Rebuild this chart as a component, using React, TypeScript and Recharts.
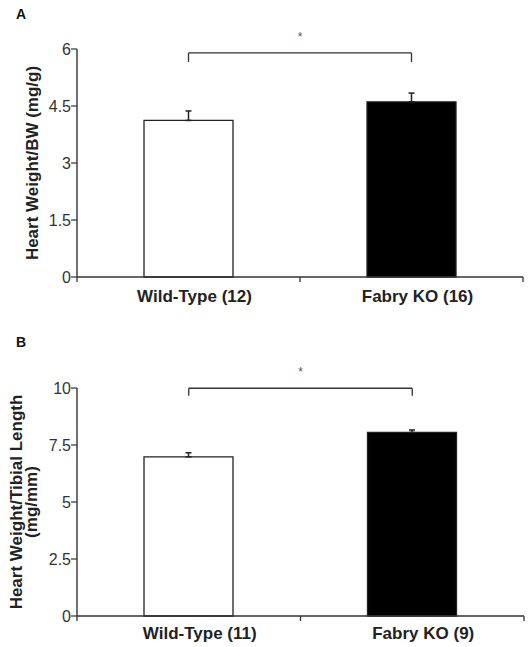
import React from 'react';
import { BarChart, Bar, XAxis, YAxis, ErrorBar, ReferenceLine, Cell, Label } from 'recharts';

const categoriesA = ['Wild-Type (12)', 'Fabry KO (16)'];
const meansA = [4.12, 4.61];
const semA = [0.25, 0.23];
const ticksA = [0, 1.5, 3, 4.5, 6];
const bracketA = { top: 5.9, foot: 5.66 };

const categoriesB = ['Wild-Type (11)', 'Fabry KO (9)'];
const meansB = [6.98, 8.05];
const semB = [0.18, 0.11];
const ticksB = [0, 2.5, 5, 7.5, 10];
const bracketB = { top: 9.99, foot: 9.66 };

const barFills = ['#ffffff', '#000000'];

const FONT = '"Liberation Sans", Arial, sans-serif';

type PanelProps = {
  categories: string[];
  means: number[];
  sem: number[];
  ticks: number[];
  bracket: { top: number; foot: number };
  height: number;
  margin: { top: number; right: number; bottom: number; left: number };
  yLabel: { text: string; x: number }[];
  tickShift: number;
  tickBase: number;
};

function XTick(props: any) {
  const { x, y, payload, shift, base, index } = props;
  const half = payload && payload.offset ? payload.offset : 0;
  return (
    <g>
      {index === 0 && half > 0 ? (
        <line x1={x - half} x2={x - half} y1={y} y2={y + 5} stroke="#333" strokeWidth={1.3} />
      ) : null}
      {half > 0 ? <line x1={x + half} x2={x + half} y1={y} y2={y + 5} stroke="#333" strokeWidth={1.3} /> : null}
      <text x={x + shift} y={y + base} textAnchor="middle" fontSize={17} fontWeight="bold" fill="#222" fontFamily={FONT}>
        {payload.value}
      </text>
    </g>
  );
}

function Panel(p: PanelProps) {
  const data = p.categories.map((c, i) => ({ name: c, value: p.means[i], err: [0, p.sem[i]] }));
  const plotTop = p.margin.top;
  const plotH = p.height - p.margin.top - p.margin.bottom - 1;
  const c0 = p.categories[0];
  const c1 = p.categories[1];
  const yMax = p.ticks[p.ticks.length - 1];
  return (
    <BarChart width={530} height={p.height} data={data} margin={p.margin} style={{ fontFamily: FONT }}>
      <XAxis
        dataKey="name"
        height={1}
        tickLine={false}
        tickSize={0}
        tickMargin={0}
        axisLine={{ stroke: '#333', strokeWidth: 1.4 }}
        tick={(tp: any) => <XTick {...tp} shift={p.tickShift} base={p.tickBase} />}
        interval={0}
      />
      <YAxis
        width={77}
        domain={[0, yMax]}
        ticks={p.ticks}
        interval={0}
        tickSize={6}
        tickMargin={0}
        axisLine={{ stroke: '#333', strokeWidth: 1.4 }}
        tickLine={{ stroke: '#333', strokeWidth: 1.2 }}
        tick={{ fontSize: 16, fill: '#333', fontFamily: FONT }}
      >
        <Label
          content={(lp: any) => {
            const vb = lp && lp.viewBox ? lp.viewBox : null;
            const cy = vb && vb.height ? vb.y + vb.height / 2 : plotTop + plotH / 2;
            return (
              <g>
                {p.yLabel.map((l, i) => (
                  <text
                    key={i}
                    x={l.x}
                    y={cy}
                    transform={`rotate(-90, ${l.x}, ${cy})`}
                    textAnchor="middle"
                    fontSize={17}
                    fontWeight="bold"
                    fill="#222"
                    fontFamily={FONT}
                  >
                    {l.text}
                  </text>
                ))}
              </g>
            );
          }}
        />
      </YAxis>
      <Bar dataKey="value" barSize={89} stroke="#222" strokeWidth={1.3} isAnimationActive={false}>
        {data.map((d, i) => (
          <Cell key={d.name} fill={barFills[i]} />
        ))}
        <ErrorBar dataKey="err" width={3} stroke="#222" strokeWidth={1.5} direction="y" isAnimationActive={false} />
      </Bar>
      <ReferenceLine
        segment={[{ x: c0, y: p.bracket.top }, { x: c1, y: p.bracket.top }]}
        stroke="#333"
        strokeWidth={1.3}
        label={{ value: '*', position: 'top', offset: 12, fontSize: 12, fill: '#555', fontFamily: FONT }}
      />
      <ReferenceLine segment={[{ x: c0, y: p.bracket.foot }, { x: c0, y: p.bracket.top }]} stroke="#333" strokeWidth={1.3} />
      <ReferenceLine segment={[{ x: c1, y: p.bracket.foot }, { x: c1, y: p.bracket.top }]} stroke="#333" strokeWidth={1.3} />
    </BarChart>
  );
}

export default function App() {
  return (
    <div style={{ position: 'absolute', left: 0, top: 0, width: 530, height: 647, background: '#fff' }}>
      <div style={{ position: 'absolute', left: 0, top: 0 }}>
        <Panel
          categories={categoriesA}
          means={meansA}
          sem={semA}
          ticks={ticksA}
          bracket={bracketA}
          height={320}
          margin={{ top: 49, right: 7, bottom: 42, left: 0 }}
          yLabel={[{ text: 'Heart Weight/BW (mg/g)', x: 37.5 }]}
          tickShift={6}
          tickBase={25}
        />
      </div>
      <div style={{ position: 'absolute', left: 0, top: 320 }}>
        <Panel
          categories={categoriesB}
          means={meansB}
          sem={semB}
          ticks={ticksB}
          bracket={bracketB}
          height={327}
          margin={{ top: 68, right: 6, bottom: 30, left: 0 }}
          yLabel={[
            { text: 'Heart Weight/Tibial Length', x: 21.5 },
            { text: '(mg/mm)', x: 37 },
          ]}
          tickShift={11}
          tickBase={23}
        />
      </div>
      <svg width={530} height={647} style={{ position: 'absolute', left: 0, top: 0, pointerEvents: 'none' }}>
        <text x={16} y={18.5} fontSize={14} fontWeight="bold" fill="#111" fontFamily={FONT}>A</text>
        <text x={16} y={347} fontSize={14} fontWeight="bold" fill="#111" fontFamily={FONT}>B</text>
      </svg>
    </div>
  );
}
